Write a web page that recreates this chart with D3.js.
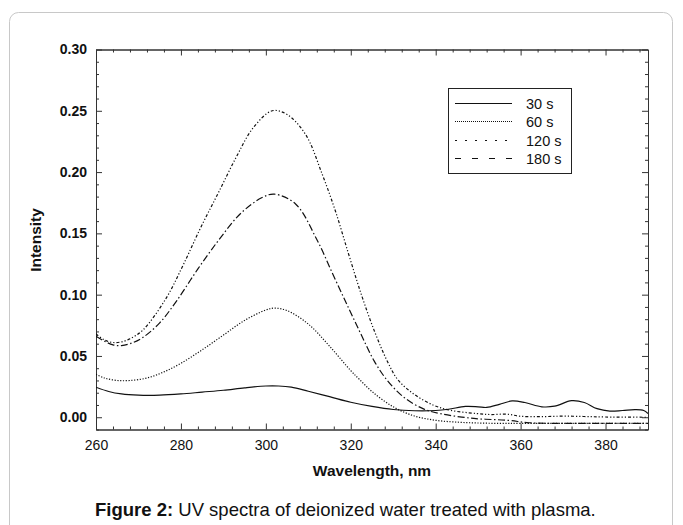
<!DOCTYPE html>
<html>
<head>
<meta charset="utf-8">
<script src="https://cdn.jsdelivr.net/npm/d3@7.9.0/dist/d3.min.js"></script>
<style>
  body { margin: 0; background: #fff; }
  svg { display: block; font-family: Arial, "Liberation Sans", sans-serif; }
</style>
</head>
<body>
<svg id="chart" width="683" height="525"></svg>
<script>
// spectra (wavelength in nm, intensity)
const wl30 = [260, 263, 266, 270, 275, 280, 285, 290, 295, 300, 303, 306, 310, 315, 320, 325, 330, 335, 340, 343, 347, 350, 352, 355, 358, 361, 365, 368, 372, 375, 378, 381, 384, 387, 389, 390];
const int30 = [0.0245, 0.021, 0.019, 0.018, 0.018, 0.019, 0.0205, 0.022, 0.024, 0.0255, 0.0255, 0.0245, 0.0212, 0.0168, 0.0122, 0.0088, 0.0063, 0.0053, 0.0055, 0.0065, 0.0088, 0.0085, 0.008, 0.0105, 0.0133, 0.012, 0.0085, 0.009, 0.0135, 0.012, 0.007, 0.005, 0.0055, 0.0062, 0.0055, 0.003];

const wl60 = [260, 262, 265, 268, 272, 276, 280, 285, 290, 295, 300, 302, 305, 310, 315, 320, 322, 325, 330, 335, 340, 345, 350, 355, 360, 370, 380, 390];
const int60 = [0.035, 0.032, 0.030, 0.030, 0.032, 0.037, 0.044, 0.055, 0.067, 0.079, 0.0875, 0.089, 0.087, 0.076, 0.058, 0.038, 0.031, 0.021, 0.0085, 0.001, -0.0025, -0.004, -0.0047, -0.005, -0.005, -0.005, -0.005, -0.005];

const wl120 = [260, 262, 264, 266, 268, 271, 275, 279, 284, 289, 294, 299, 302, 307, 312, 316, 319.5, 322.5, 325.5, 328.6, 332.4, 337, 341, 349, 357, 362, 370, 380, 390];
const int120 = [0.066, 0.062, 0.059, 0.0585, 0.060, 0.065, 0.077, 0.095, 0.121, 0.145, 0.166, 0.179, 0.182, 0.174, 0.145, 0.115, 0.089, 0.067, 0.046, 0.030, 0.0166, 0.007, 0.003, -0.001, -0.0025, -0.0045, -0.005, -0.005, -0.005];

const wl180 = [260, 262, 264, 266, 268, 271, 276.5, 280.5, 284.7, 288.8, 293, 297, 301.5, 305, 309.3, 313.3, 316.4, 319.5, 322.5, 325.6, 328.7, 331, 334.8, 339.5, 343.4, 349.7, 353, 356.8, 360, 365, 370, 375, 380, 390];
const int180 = [0.068, 0.063, 0.061, 0.0615, 0.064, 0.071, 0.097, 0.124, 0.155, 0.183, 0.212, 0.236, 0.250, 0.247, 0.231, 0.198, 0.168, 0.133, 0.100, 0.070, 0.045, 0.031, 0.019, 0.0098, 0.0057, 0.003, 0.0022, 0.0025, 0.0008, 0.0005, 0.0009, 0.0006, 0.0002, 0.0];

const seriesNames = ["30 s", "60 s", "120 s", "180 s"];
const xMajor = [260, 280, 300, 320, 340, 360, 380];
const yMajor = [0.00, 0.05, 0.10, 0.15, 0.20, 0.25, 0.30];

const series = [
  { name: seriesNames[0], wl: wl30, v: int30 },
  { name: seriesNames[1], wl: wl60, v: int60 },
  { name: seriesNames[2], wl: wl120, v: int120 },
  { name: seriesNames[3], wl: wl180, v: int180 },
];

// dash patterns: one for the curve, one for the little legend sample
const plotDash = ["none", "1.2,1.6", "7,2.5,1.5,2.5", "3,2,1.2,2,1.2,2"];
const legendDash = ["none", "1,1", "2,8", "6,11"];

const svg = d3.select("#chart");
const mLeft = 96, mRight = 648, mTop = 49.5, mBottom = 429.5;

// outer figure frame
svg.append("rect")
  .attr("x", 9.5).attr("y", 12.5)
  .attr("width", 663).attr("height", 560)
  .attr("rx", 9)
  .attr("fill", "none")
  .attr("stroke", "#c8c8c8");

const x = d3.scaleLinear().domain([260, 390]).range([mLeft, mRight]);
const y = d3.scaleLinear().domain([-0.01, 0.30]).range([mBottom, mTop]);

const xMinor = d3.range(260, 391, 4).filter(d => !xMajor.includes(d));
const yMinor = d3.range(-1, 31).map(d => d / 100).filter(d => !yMajor.some(m => Math.abs(m - d) < 1e-9));

function styleAxis(g) {
  g.select(".domain").attr("stroke", "#333");
  g.selectAll(".tick line").attr("stroke", "#333");
}

// bottom
svg.append("g").attr("transform", `translate(0,${mBottom})`)
  .call(d3.axisBottom(x).tickValues(xMajor).tickSize(-6).tickSizeOuter(0).tickPadding(11))
  .call(styleAxis)
  .call(g => g.selectAll("text").attr("font-size", 14).attr("fill", "#111").attr("font-family", null));
svg.append("g").attr("transform", `translate(0,${mBottom})`)
  .call(d3.axisBottom(x).tickValues(xMinor).tickSize(-3).tickSizeOuter(0).tickFormat(""))
  .call(styleAxis);
// top
svg.append("g").attr("transform", `translate(0,${mTop})`)
  .call(d3.axisTop(x).tickValues(xMajor).tickSize(-6).tickSizeOuter(0).tickFormat(""))
  .call(styleAxis);
svg.append("g").attr("transform", `translate(0,${mTop})`)
  .call(d3.axisTop(x).tickValues(xMinor).tickSize(-3).tickSizeOuter(0).tickFormat(""))
  .call(styleAxis);
// left
svg.append("g").attr("transform", `translate(${mLeft},0)`)
  .call(d3.axisLeft(y).tickValues(yMajor).tickSize(-6).tickSizeOuter(0).tickPadding(9).tickFormat(d3.format(".2f")))
  .call(styleAxis)
  .call(g => g.selectAll("text").attr("font-size", 14).attr("font-weight", "bold").attr("fill", "#111").attr("font-family", null));
svg.append("g").attr("transform", `translate(${mLeft},0)`)
  .call(d3.axisLeft(y).tickValues(yMinor).tickSize(-3).tickSizeOuter(0).tickFormat(""))
  .call(styleAxis);
// right
svg.append("g").attr("transform", `translate(${mRight},0)`)
  .call(d3.axisRight(y).tickValues(yMajor).tickSize(-6).tickSizeOuter(0).tickFormat(""))
  .call(styleAxis);
svg.append("g").attr("transform", `translate(${mRight},0)`)
  .call(d3.axisRight(y).tickValues(yMinor).tickSize(-3).tickSizeOuter(0).tickFormat(""))
  .call(styleAxis);

svg.append("clipPath").attr("id", "plot-clip")
  .append("rect").attr("x", mLeft).attr("y", mTop).attr("width", mRight - mLeft).attr("height", mBottom - mTop);

const line = d3.line()
  .x(d => x(d[0]))
  .y(d => y(d[1]))
  .curve(d3.curveCatmullRom.alpha(0.5));

svg.append("g").attr("clip-path", "url(#plot-clip)")
  .selectAll("path")
  .data(series)
  .join("path")
  .attr("d", s => line(s.wl.map((w, i) => [w, s.v[i]])))
  .attr("fill", "none")
  .attr("stroke", "#111")
  .attr("stroke-width", 1.2)
  .attr("stroke-dasharray", (s, i) => plotDash[i]);

// axis titles
svg.append("text")
  .attr("x", 372).attr("y", 476)
  .attr("text-anchor", "middle")
  .attr("font-size", 15.5).attr("font-weight", "bold").attr("fill", "#111")
  .text("Wavelength, nm");

svg.append("text")
  .attr("transform", "translate(41,240) rotate(-90)")
  .attr("text-anchor", "middle")
  .attr("font-size", 15.5).attr("font-weight", "bold").attr("fill", "#111")
  .text("Intensity");

// legend
const legend = svg.append("g");
legend.append("rect")
  .attr("x", 448.5).attr("y", 88.5).attr("width", 123).attr("height", 85)
  .attr("fill", "#fff").attr("stroke", "#222");
const rowY = [103.5, 121.5, 140.5, 158.5];
series.forEach((s, i) => {
  legend.append("line")
    .attr("x1", 455).attr("x2", 512).attr("y1", rowY[i]).attr("y2", rowY[i])
    .attr("stroke", "#111").attr("stroke-width", 1.2)
    .attr("stroke-dasharray", legendDash[i]);
  legend.append("text")
    .attr("x", 526).attr("y", rowY[i] + 5)
    .attr("font-size", 14.5).attr("fill", "#111")
    .text(s.name);
});

// caption
const cap = svg.append("text").attr("x", 95).attr("y", 516).attr("font-size", 18.5).attr("fill", "#111");
cap.append("tspan").attr("font-weight", "bold").text("Figure 2:");
cap.append("tspan").text(" UV spectra of deionized water treated with plasma.");
</script>
</body>
</html>
